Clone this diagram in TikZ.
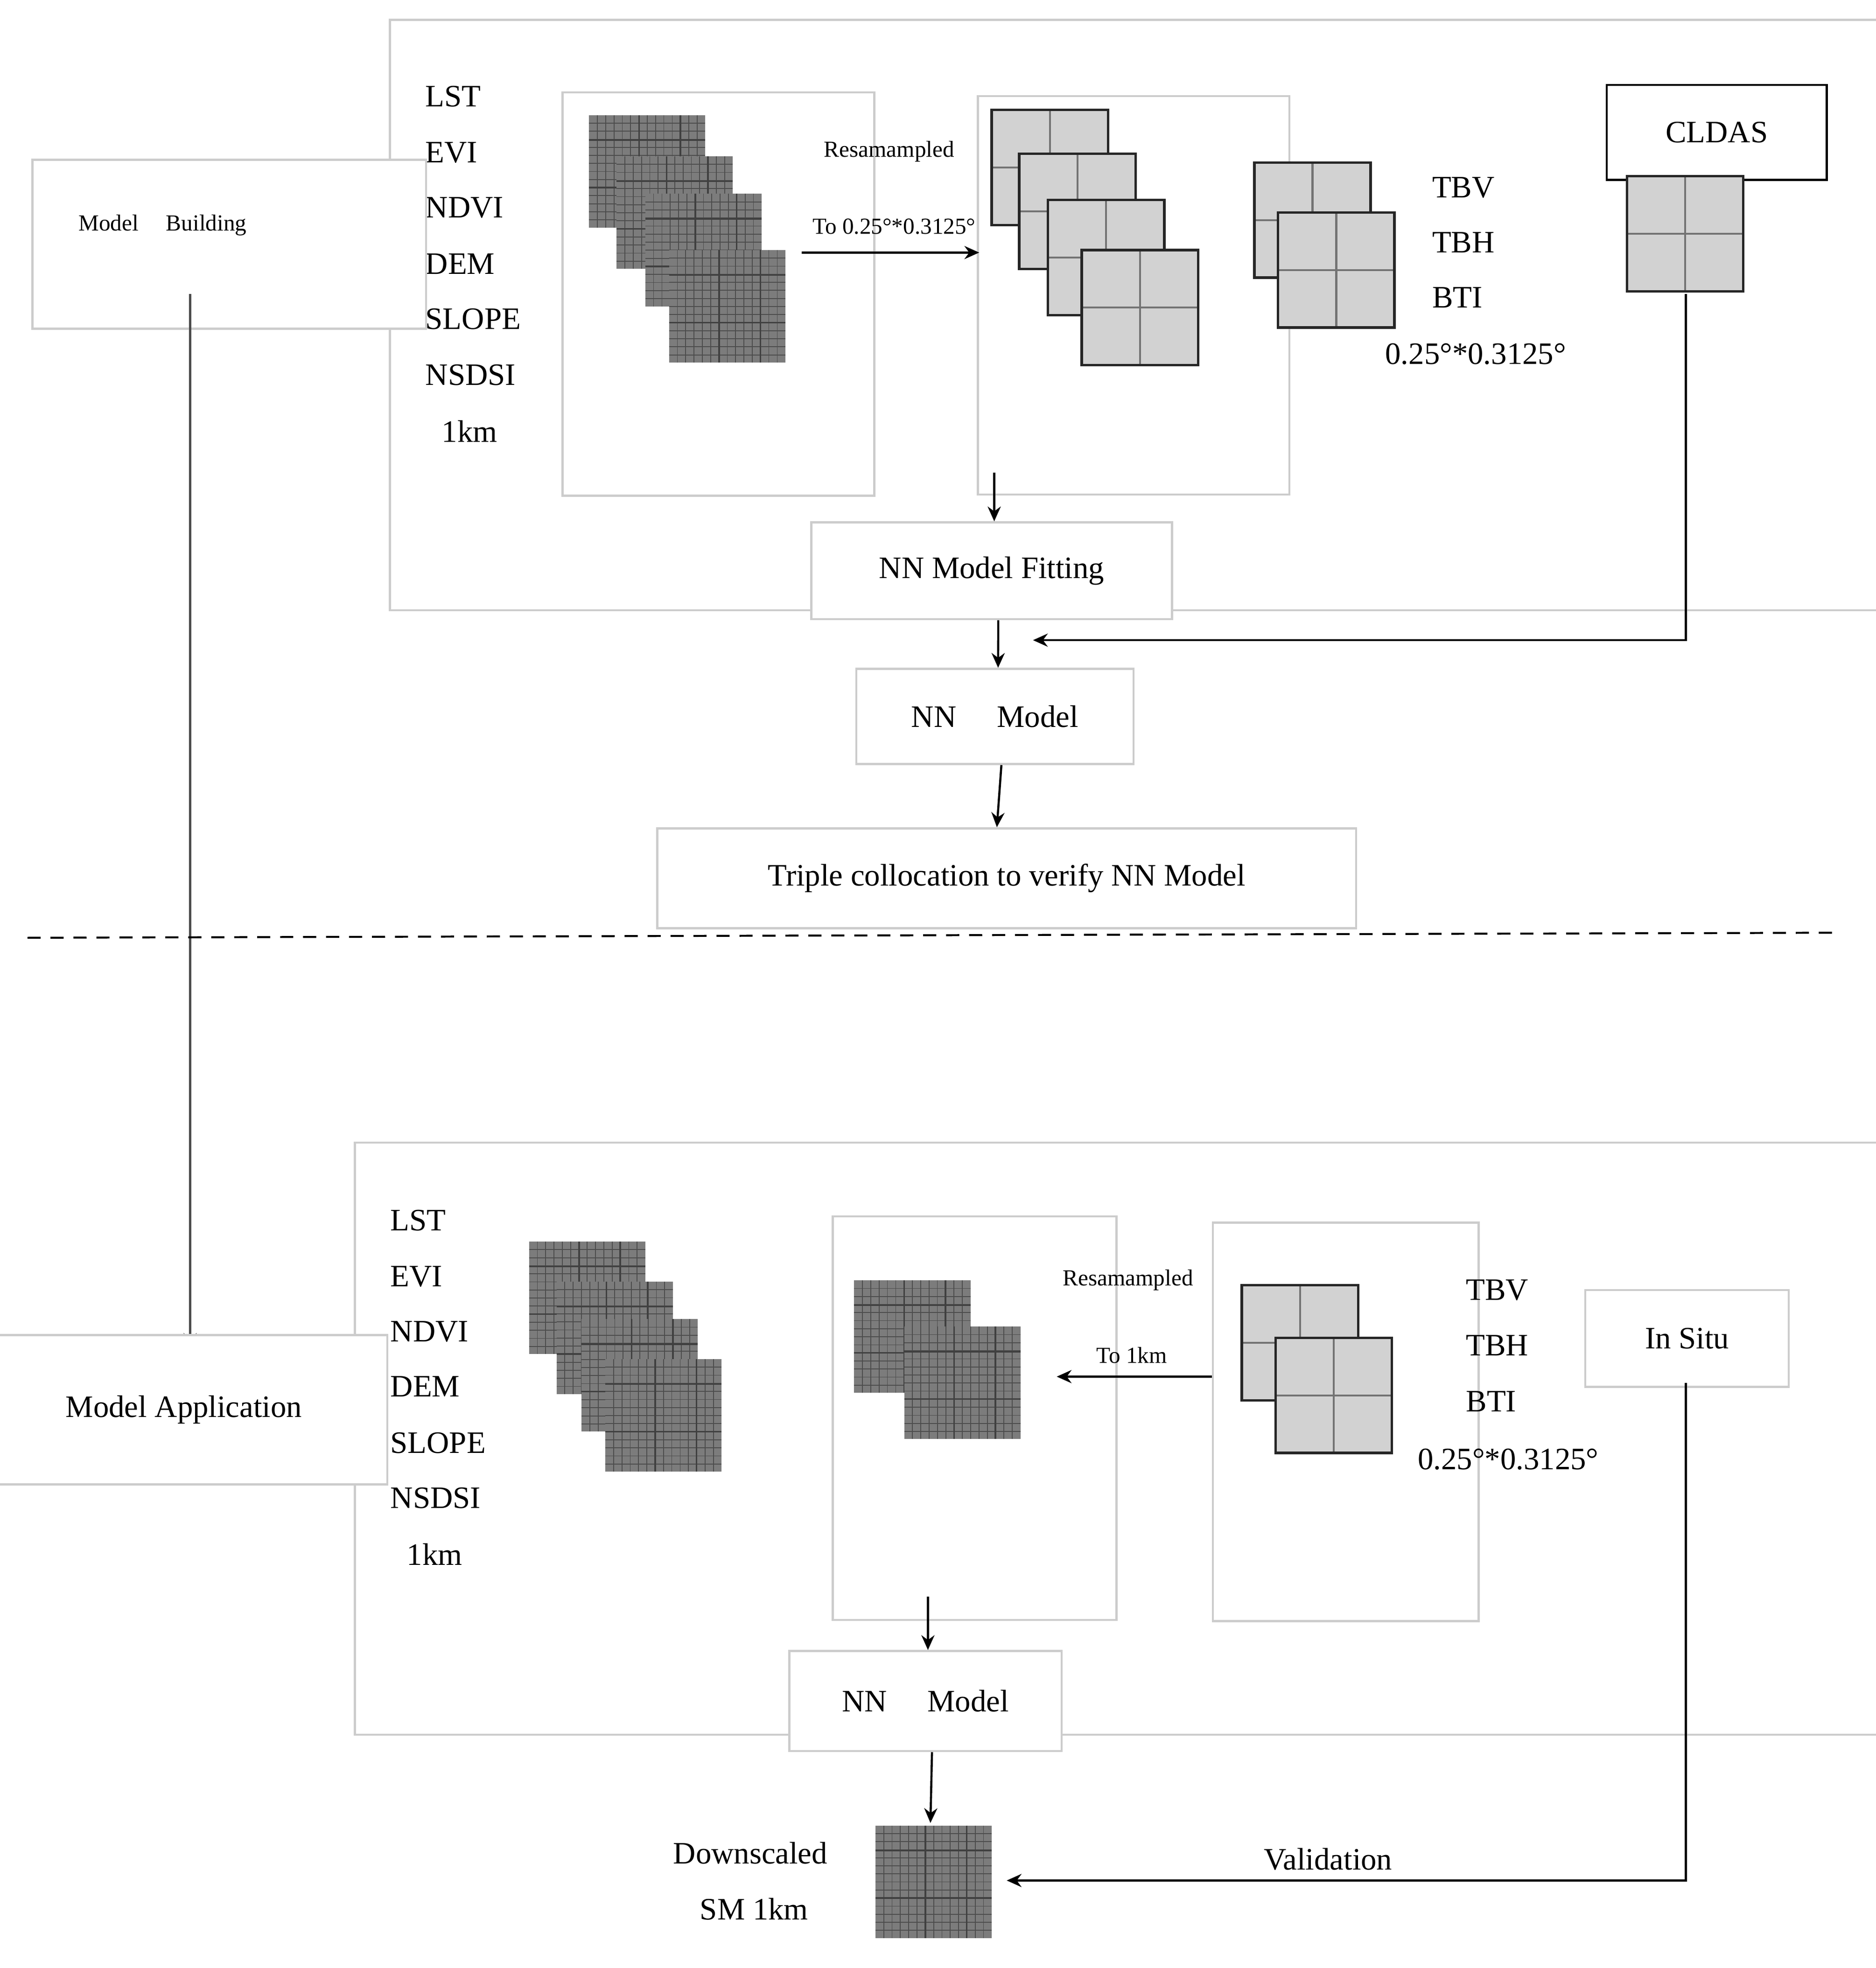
\documentclass[tikz,border=0pt]{standalone}
\usepackage{fontspec}
\setmainfont{Liberation Serif}
\usetikzlibrary{arrows.meta}
\definecolor{bx}{HTML}{CCCCCC}
\definecolor{cf}{HTML}{D2D2D2}
\definecolor{ff}{HTML}{7C7C7C}
\begin{document}
\begin{tikzpicture}[x=0.0268cm,y=-0.0268cm,
  gbox/.style={draw=bx,line width=1.3pt,fill=white},
  lbl/.style={font=\fontsize{19}{22}\selectfont,inner sep=0pt},
  sml/.style={font=\fontsize{14}{17}\selectfont,inner sep=0pt},
  arr/.style={line width=1.3pt,-{Stealth[length=9pt,width=8pt]}},
  fine/.pic={\fill[ff] (0,0) rectangle (93,90);
    \foreach \i in {1,...,13}{\draw[gray!60!black,line width=0.5pt] (\i*6.65,0)--(\i*6.65,90); \draw[gray!60!black,line width=0.5pt] (0,\i*6.45)--(93,\i*6.45);}
    \draw[black!75,line width=1pt] (40,0)--(40,90) (0,20)--(93,20) (0,58)--(93,58) (73,0)--(73,90);},
  coarse/.pic={\fill[cf] (0,0) rectangle (93,92);
    \draw[black!55,line width=1.2pt] (46.5,0)--(46.5,92) (0,46)--(93,46);
    \draw[black!85,line width=1.5pt] (0,0) rectangle (93,92);}
]
\useasboundingbox (0,0) rectangle (1500,1574);
\fill[white] (0,0) rectangle (1500,1574);
% ---------- top ----------
\node[gbox,minimum width=960,minimum height=360,anchor=north west] (top) at (311,15) {};
\foreach \t/\y [count=\k] in {LST/77,EVI/122,NDVI/166,DEM/211,SLOPE/255,NSDSI/300}
  \node[lbl,anchor=west] (tl\k) at (340,\y) {\t};
\node[lbl,anchor=west] (tl7) at (353,345) {1km};
\node[gbox,minimum width=190,minimum height=246,anchor=north west] (ib1) at (449,73) {};
\pic at (471,92) {fine}; \pic at (493,125) {fine}; \pic at (516,155) {fine}; \pic at (535,200) {fine};
\node[gbox,minimum width=190,minimum height=243,anchor=north west] (ib2) at (781,76) {};
\pic at (793,88) {coarse}; \pic at (815,123) {coarse}; \pic at (838,160) {coarse}; \pic at (865,200) {coarse};
\pic at (1003,130) {coarse}; \pic at (1022,170) {coarse};
\node[lbl,anchor=west] (tbv) at (1145,150) {TBV};
\node[lbl,anchor=west] (tbh) at (1145,194) {TBH};
\node[lbl,anchor=west] (bti) at (1145,238) {BTI};
\node[lbl] (res1) at (1180,283) {0.25°*0.3125°};
\node[sml] (rs1) at (711,121) {Resamampled};
\node[sml] (to1) at (715,181) {To 0.25°*0.3125°};
\coordinate (a1s) at (641,202); \coordinate (a1e) at (783,202);
\draw[arr] (a1s) -- (a1e);
\node[draw=black,line width=1.3pt,minimum width=134,minimum height=58,anchor=north west,lbl] (cldas) at (1284,67) {};
\node[lbl] at (cldas.center) {CLDAS};
\pic at (1301,141) {coarse};
\coordinate (c1) at (1348,235); \coordinate (c2) at (1348,512); \coordinate (c3) at (826,512);
\draw[arr] (c1) -- (c2) -- (c3);
\node[gbox,minimum width=240,minimum height=103,anchor=north west] (mb) at (25,127) {};
\node[sml] (mbt) at (130,180) {Model\hspace{1.2em}Building};
\coordinate (m1) at (152,235); \coordinate (m2) at (152,1078);
\draw[arr,draw=black!70] (m1) -- (m2);
\node[gbox,minimum width=220,minimum height=59,lbl] (fit) at (793,456.5) {NN Model Fitting};
\coordinate (f1) at (795,378);
\draw[arr] (f1) -- (fit.north -| f1);
\node[gbox,minimum width=169,minimum height=58,lbl] (nn1) at (795.5,573) {NN\hspace{1.3em}Model};
\draw[arr] ([xshift=4]fit.south) -- ([xshift=2]nn1.north);
\node[gbox,minimum width=426,minimum height=61,lbl] (tri) at (805,702.5) {Triple collocation to verify NN Model};
\draw[arr] ([xshift=4]nn1.south) -- ([xshift=-6]tri.north);
\coordinate (d1) at (22,750); \coordinate (d2) at (1470,746);
\draw[line width=1.2pt,dash pattern=on 8pt off 6pt] (d1) -- (d2);
% ---------- bottom ----------
\node[gbox,minimum width=997,minimum height=361,anchor=north west] (bot) at (283,913) {};
\foreach \t/\y [count=\k] in {LST/976,EVI/1021,NDVI/1065,DEM/1109,SLOPE/1154,NSDSI/1198}
  \node[lbl,anchor=west] (bl\k) at (312,\y) {\t};
\node[lbl,anchor=west] (bl7) at (325,1243) {1km};
\pic at (423,993) {fine}; \pic at (445,1025) {fine}; \pic at (465,1055) {fine}; \pic at (484,1087) {fine};
\node[gbox,minimum width=173,minimum height=246,anchor=north west] (ib3) at (665,972) {};
\pic at (683,1024) {fine}; \pic at (723,1061) {fine};
\node[gbox,minimum width=162,minimum height=243,anchor=north west] (ib4) at (969,977) {};
\pic at (993,1028) {coarse}; \pic at (1020,1070) {coarse};
\node[lbl,anchor=west] (tbv2) at (1172,1032) {TBV};
\node[lbl,anchor=west] (tbh2) at (1172,1076) {TBH};
\node[lbl,anchor=west] (bti2) at (1172,1121) {BTI};
\node[lbl] (res2) at (1206,1167) {0.25°*0.3125°};
\node[sml] (rs2) at (902,1024) {Resamampled};
\node[sml] (to2) at (905,1084) {To 1km};
\draw[arr] (ib4.west |- 0,1101) -- (845,1101) coordinate (a2e);
\node[gbox,minimum width=124,minimum height=59,lbl] (situ) at (1349,1070.5) {In Situ};
\coordinate (s1) at (1348,1106); \coordinate (s2) at (1348,1504); \coordinate (s3) at (805,1504);
\draw[arr] (s1) -- (s2) -- (s3);
\node[lbl] (val) at (1062,1487) {Validation};
\node[gbox,minimum width=248,minimum height=91,lbl] (ma) at (147,1127.5) {Model Application};
\coordinate (b1) at (742,1277);
\node[gbox,minimum width=166,minimum height=61,lbl] (nn2) at (740,1360.5) {NN\hspace{1.3em}Model};
\draw[arr] (b1) -- (nn2.north -| b1);
\pic at (700,1460) {fine};
\coordinate (sm) at (744,1458);
\draw[arr] ([xshift=4]nn2.south) -- (sm);
\node[lbl] (ds) at (600,1482) {Downscaled};
\node[lbl] (sm1) at (603,1527) {SM 1km};
\end{tikzpicture}
\end{document}
